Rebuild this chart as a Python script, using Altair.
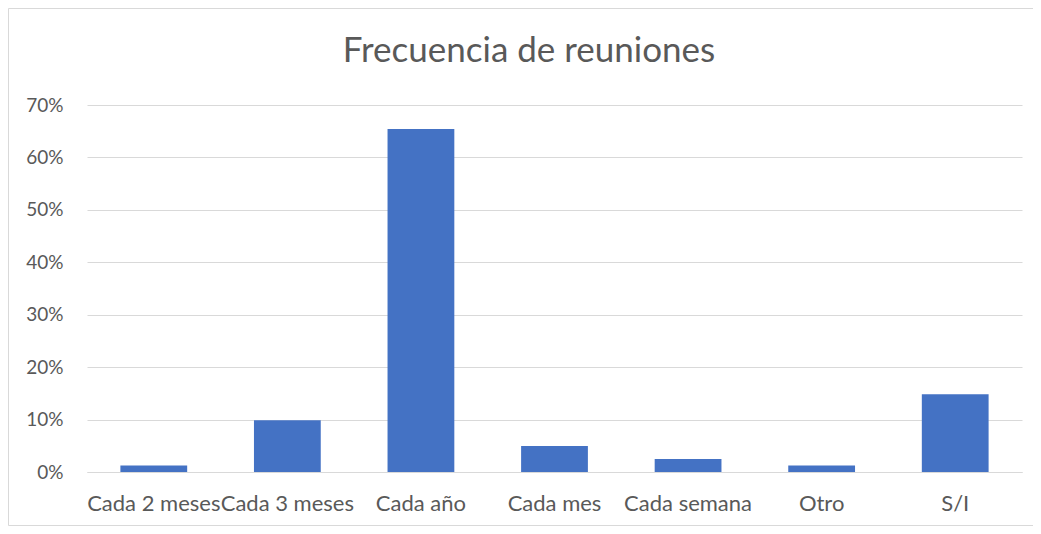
import altair as alt
import pandas as pd

title_text = ["Frecuencia de reuniones"]
categories = ["Cada 2 meses", "Cada 3 meses", "Cada año", "Cada mes", "Cada semana", "Otro", "S/I"]
values = [0.0123, 0.0988, 0.6543, 0.0494, 0.0247, 0.0123, 0.1481]

df = pd.DataFrame({"cat": categories, "val": values})
tdf = pd.DataFrame({"t": title_text})

FONT = "Lato"
GREY = "#595959"

bars = alt.Chart(df).mark_bar(color="#4472C4").encode(
    x=alt.X("cat:N", sort=categories, title=None,
            scale=alt.Scale(paddingInner=0.5, paddingOuter=0.25),
            axis=alt.Axis(labelAngle=0, labelFont=FONT, labelFontSize=22, labelColor=GREY,
                          labelPadding=21, ticks=False, domain=True, domainColor="#d9d9d9",
                          labelLimit=300)),
    y=alt.Y("val:Q", title=None,
            scale=alt.Scale(domain=[0, 0.7]),
            axis=alt.Axis(format=".0%", values=[0, 0.1, 0.2, 0.3, 0.4, 0.5, 0.6, 0.7],
                          labelFont=FONT, labelFontSize=19, labelColor=GREY, labelPadding=24,
                          ticks=False, domain=False, gridColor="#d9d9d9", gridWidth=1)),
)

border = alt.Chart(tdf).mark_rect(fill="white", fillOpacity=0, stroke="#d9d9d9", strokeWidth=1).encode(
    x=alt.value(-78.5), x2=alt.value(980), y=alt.value(-96.5), y2=alt.value(420.5)
)

title = alt.Chart(tdf).mark_text(font=FONT, fontSize=35, color=GREY, align="center",
                                 baseline="alphabetic").encode(
    text="t:N", x=alt.value(442), y=alt.value(-43)
)

chart = alt.layer(border, bars, title).properties(
    width=935, height=367,
    autosize=alt.AutoSizeParams(type="none"),
    padding={"left": 79, "top": 97, "right": 11, "bottom": 54},
).configure(background="white").configure_view(strokeWidth=0, stroke=None)

chart.save("out.html", embed_options={"renderer": "svg", "actions": False})
